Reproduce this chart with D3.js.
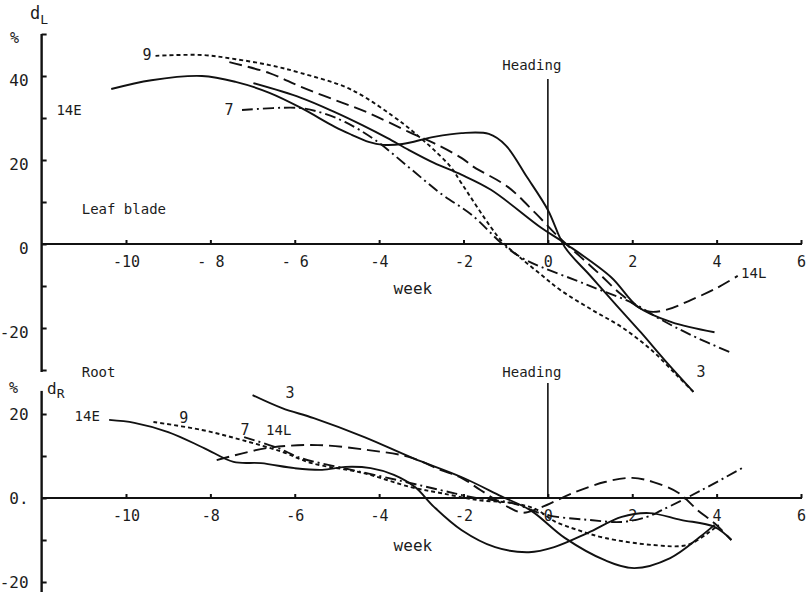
<!DOCTYPE html>
<html>
<head>
<meta charset="utf-8">
<script src="https://cdn.jsdelivr.net/npm/d3@7"></script>
<style>
  body { margin: 0; background: #fff; }
  svg text { font-family: "DejaVu Sans Mono", monospace; fill: #1c1c1c; }
</style>
</head>
<body>
<svg id="chart"></svg>
<script>
// week (relative to heading) and change in % for each plant group

// tick values and their printed labels
const weekTicks = [-10, -8, -6, -4, -2, 0, 2, 4, 6];
const leafWeekText = ["-10", "- 8", "- 6", "-4", "-2", "0", "2", "4", "6"];
const rootWeekText = ["-10", "-8", "-6", "-4", "-2", "0", "2", "4", "6"];
const leafPctTicks = [50, 40, 30, 20, 10, 0, -10, -20, -30];
const leafPctText = ["", "40", "", "20", "", "0", "", "-20", ""];
const rootPctTicks = [20, 10, 0, -10, -20];
const rootPctText = ["20", "", "0.", "", "-20"];

// leaf blade, d_L
const leaf14E = [[-10.35,36.9],[-9.4,39],[-8.2,40],[-7.4,38.6],[-6.6,36],[-5.85,32.4],[-5.05,27.9],
  [-4.65,26],[-4.25,24.3],[-3.9,23.6],[-3.45,23.8],[-2.7,25.5],[-2.05,26.4],[-1.4,26.2],[-1.0,23.5],
  [-0.5,16],[0,8.1],[0.4,-0.7],[1.0,-7.5],[1.6,-14.3],[2.2,-21],[2.8,-28],[3.45,-35.2]];
const leaf3 = [[-6.98,38.3],[-5.85,34.8],[-5.05,31.4],[-4.4,28.3],[-3.8,25.2],[-3.3,22.4],[-2.7,19.3],
  [-2.05,16.5],[-1.35,12.9],[-0.15,3.8],[0.4,0.2],[1.5,-7.9],[2.14,-15],[2.93,-18.6],[3.95,-21]];
const leaf9 = [[-9.3,44.8],[-8.2,45],[-7.4,44],[-6.6,42.6],[-5.85,40.7],[-4.65,36.7],[-3.45,28.8],
  [-3.05,25.5],[-2.7,22.4],[-2.3,18.3],[-2.05,14.5],[-1.35,4],[-1.05,0.2],[-0.65,-3.3],[-0.15,-7.4],
  [0.3,-11],[1.05,-15.7],[1.75,-19.8],[2.45,-25.2],[3.05,-31.2],[3.45,-35.2]];
const leaf7 = [[-7.25,31.9],[-5.9,32.4],[-5.35,31.2],[-4.8,29],[-4.1,24.8],[-3.3,18.3],[-2.55,12.1],
  [-1.8,6.9],[-1.1,0.2],[-0.65,-3.1],[-0.15,-5.5],[0.65,-8.6],[1.25,-11],[2.0,-14],[2.7,-18.1],
  [3.4,-21.7],[4.3,-25.7]];
const leaf14L = [[-7.55,43.3],[-6.6,40.7],[-5.85,37.4],[-5.05,34.3],[-4.25,31.2],[-3.3,26.7],[-2.7,24],
  [-2.05,20.5],[-1.75,18.3],[-0.95,13.6],[-0.3,7.4],[0.25,1.7],[0.8,-3.3],[1.25,-7.4],[1.75,-12.1],
  [2.35,-16],[2.8,-15.7],[3.4,-13.3],[4.0,-10.5],[4.5,-7.6]];

// root, d_R
const root14E = [[-10.4,18.6],[-9.8,17.9],[-9.0,15.7],[-8.15,11.9],[-7.45,8.6],[-6.8,8.3],[-6.0,7.1],
  [-5.35,6.7],[-4.8,7.4],[-4.2,7.1],[-3.65,5.5],[-3.15,2.6],[-2.7,-2.1],[-2.05,-7.6],[-1.25,-11.7],
  [-0.45,-12.9],[0.15,-11.7],[0.95,-8.3],[1.75,-4.5],[2.4,-3.6],[3.15,-5.2],[3.95,-6.9],[4.35,-10]];
const root3 = [[-7.0,24.5],[-6.3,21.4],[-5.55,19],[-4.35,14.5],[-3.2,9.5],[-2.05,5],[-1.1,0.4],
  [-0.4,-3],[0.4,-9.5],[1.35,-14.8],[2.05,-16.7],[2.9,-14.3],[3.6,-9.3],[3.95,-6.4]];
const root9 = [[-9.35,18.1],[-8.2,16.2],[-7.25,13.8],[-6.3,11],[-5.6,8.3],[-4.4,6],[-3.25,2.6],
  [-2.55,1.2],[-1.65,-0.5],[-0.85,-1.2],[-0.3,-2.6],[0.15,-5.5],[0.7,-7.6],[1.35,-9.5],[2.5,-11.2],
  [3.3,-11.2],[3.8,-8.3],[4.05,-6.4]];
const root7 = [[-7.2,14.5],[-6.4,11.9],[-5.85,9.5],[-4.65,6.7],[-3.45,4],[-2.55,1.9],[-1.8,0.2],
  [-0.85,-1.2],[-0.05,-4],[0.95,-5.2],[1.75,-5.7],[2.35,-4.5],[2.7,-2.9],[3.65,1.9],[4.6,7.1]];
const root14L = [[-7.85,9],[-6.65,11.9],[-5.45,12.6],[-4.25,11.4],[-3.3,9.8],[-2.55,6.7],[-2.05,4.8],
  [-1.6,1.9],[-0.95,-2.1],[-0.6,-3.5],[-0.15,-2.2],[0.55,1.0],[1.35,3.8],[2.0,4.8],[2.5,3.8],
  [3.1,1.2],[3.55,-2.9],[3.95,-6],[4.35,-10]];

const width = 809, height = 592;
const svg = d3.select("#chart").attr("width", width).attr("height", height);

const x = d3.scaleLinear().domain([-10, 6]).range([126, 801]);

// dash patterns per group
const dash = { "14E": null, "3": null, "9": "4,3", "7": "11,4,2,4", "14L": "13,6" };

const line = y => d3.line()
  .x(d => x(d[0]))
  .y(d => y(d[1]))
  .curve(d3.curveCatmullRom.alpha(0.5));

const drawPanel = (y, cfg) => {
  const g = svg.append("g");

  // y axis: ticks pointing inward
  g.append("g")
    .attr("transform", `translate(${x(-12)},0)`)
    .call(d3.axisLeft(y).tickValues(cfg.yTicks).tickSize(-5).tickPadding(13)
      .tickFormat((d, i) => cfg.yText[i]))
    .call(a => a.select(".domain").remove())
    .call(a => a.selectAll("line").attr("stroke", "#111").attr("stroke-width", 2))
    .call(a => a.selectAll("text").attr("font-size", 16).attr("dy", cfg.yDy)
      .attr("font-family", "DejaVu Sans Mono").attr("fill", "#1c1c1c"));

  g.append("line")
    .attr("x1", x(-12)).attr("x2", x(-12))
    .attr("y1", y(cfg.yTop)).attr("y2", y(cfg.yBottom))
    .attr("stroke", "#111").attr("stroke-width", 2.4);

  // week axis
  g.append("g")
    .attr("transform", `translate(0,${y(0)})`)
    .call(d3.axisBottom(x).tickValues(weekTicks).tickSize(-4).tickPadding(12)
      .tickFormat((d, i) => cfg.xText[i]))
    .call(a => a.select(".domain").remove())
    .call(a => a.selectAll("line").attr("stroke", "#111").attr("stroke-width", 2))
    .call(a => a.selectAll("text").attr("font-size", 15)
      .attr("font-family", "DejaVu Sans Mono").attr("fill", "#1c1c1c"));

  g.append("line")
    .attr("x1", x(-12)).attr("x2", x(6) + 1)
    .attr("y1", y(0)).attr("y2", y(0))
    .attr("stroke", "#111").attr("stroke-width", 2.2);

  // heading marker
  g.append("line")
    .attr("x1", x(0)).attr("x2", x(0))
    .attr("y1", y(cfg.headTop)).attr("y2", y(0))
    .attr("stroke", "#111").attr("stroke-width", 1.6);

  g.append("g")
    .selectAll("path")
    .data(cfg.series)
    .join("path")
    .attr("d", s => line(y)(s.values))
    .attr("fill", "none")
    .attr("stroke", "#111")
    .attr("stroke-width", 1.9)
    .attr("stroke-dasharray", s => dash[s.name]);

  g.append("g")
    .selectAll("text")
    .data(cfg.notes)
    .join("text")
    .attr("x", d => x(d.w))
    .attr("y", d => y(d.v))
    .attr("dominant-baseline", "central")
    .attr("text-anchor", d => d.anchor || "middle")
    .attr("font-size", d => d.size || 15)
    .text(d => d.text);
};

const yLeaf = d3.scaleLinear().domain([-30, 50]).range([370, 34]);
const yRoot = d3.scaleLinear().domain([-20, 20]).range([582, 414]);

drawPanel(yLeaf, {
  yTicks: leafPctTicks, yText: leafPctText, yDy: "0.6em", xText: leafWeekText,
  yTop: 50, yBottom: -30.5, headTop: 39.3,
  series: [
    { name: "14E", values: leaf14E }, { name: "3", values: leaf3 },
    { name: "9", values: leaf9 }, { name: "7", values: leaf7 }, { name: "14L", values: leaf14L }
  ],
  notes: [
    { text: "9", w: -9.5, v: 45 }, { text: "7", w: -7.56, v: 31.9 },
    { text: "14E", w: -11.35, v: 31.9, size: 14 }, { text: "14L", w: 4.88, v: -6.9, size: 14 },
    { text: "3", w: 3.63, v: -30.5 }, { text: "Heading", w: -0.38, v: 42.6, size: 14 },
    { text: "Leaf blade", w: -11.05, v: 8.3, anchor: "start", size: 14 },
    { text: "Root", w: -11.05, v: -30.5, anchor: "start", size: 14 },
    { text: "week", w: -3.2, v: -10.7, size: 16 }
  ]
});

drawPanel(yRoot, {
  yTicks: rootPctTicks, yText: rootPctText, yDy: "0.32em", xText: rootWeekText,
  yTop: 25.5, yBottom: -23, headTop: 27.4,
  series: [
    { name: "14E", values: root14E }, { name: "3", values: root3 },
    { name: "9", values: root9 }, { name: "7", values: root7 }, { name: "14L", values: root14L }
  ],
  notes: [
    { text: "14E", w: -10.92, v: 19.5, size: 14 }, { text: "9", w: -8.63, v: 19 },
    { text: "7", w: -7.18, v: 16.2 }, { text: "14L", w: -6.38, v: 16.2, size: 14 },
    { text: "3", w: -6.11, v: 25 }, { text: "Heading", w: -0.38, v: 30, size: 14 },
    { text: "week", w: -3.2, v: -11.2, size: 16 }
  ]
});

// axis titles
const dL = svg.append("text").attr("x", 30).attr("y", 19).attr("font-size", 17).text("d");
dL.append("tspan").attr("dy", 5).attr("font-size", 13).text("L");
svg.append("text").attr("x", 10).attr("y", 43).attr("font-size", 15).text("%");
const dR = svg.append("text").attr("x", 47).attr("y", 394).attr("font-size", 16).text("d");
dR.append("tspan").attr("dy", 4).attr("font-size", 13).text("R");
svg.append("text").attr("x", 9).attr("y", 393).attr("font-size", 15).text("%");
</script>
</body>
</html>
